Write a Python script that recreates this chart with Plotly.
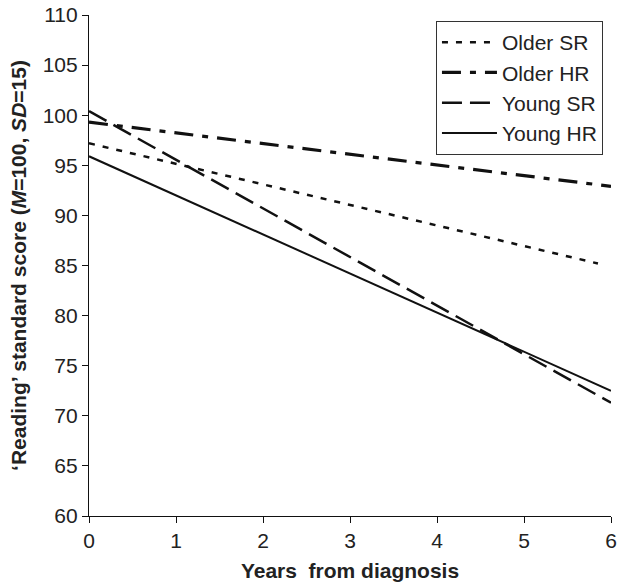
import plotly.graph_objects as go

years = [0, 6]
older_sr_x = [0, 5.85]
older_sr = [97.2, 85.2]
older_hr = [99.3, 92.9]
young_sr = [100.4, 71.3]
young_hr = [95.9, 72.5]

ink = "#111111"
fig = go.Figure()
fig.add_trace(go.Scatter(x=older_sr_x, y=older_sr, mode="lines", name="Older SR",
                         line=dict(color=ink, width=2.5, dash="6px,8px")))
fig.add_trace(go.Scatter(x=years, y=older_hr, mode="lines", name="Older HR",
                         line=dict(color=ink, width=3.2, dash="19px,9px,6px,9px")))
fig.add_trace(go.Scatter(x=years, y=young_sr, mode="lines", name="Young SR",
                         line=dict(color=ink, width=2.5, dash="20px,8px")))
fig.add_trace(go.Scatter(x=years, y=young_hr, mode="lines", name="Young HR",
                         line=dict(color=ink, width=2)))

font = "Liberation Sans, Arial, sans-serif"
fig.update_layout(
    width=618, height=587,
    margin=dict(l=89, r=7, t=15, b=71),
    paper_bgcolor="white", plot_bgcolor="white",
    font=dict(family=font, color="#222", size=21),
    showlegend=True,
    legend=dict(x=0.9846, y=0.988, xanchor="right", yanchor="top",
                bordercolor="#333", borderwidth=1, bgcolor="white",
                font=dict(size=21), itemwidth=55, tracegroupgap=0),
    xaxis=dict(range=[0, 6], dtick=1, tick0=0, showline=True, linecolor=ink,
               linewidth=1.2, ticks="outside", ticklen=6, tickcolor=ink,
               showgrid=False, zeroline=False, ticklabeloverflow="allow", automargin=False,
               title=dict(text="<b>Years  from diagnosis</b>", font=dict(size=21), standoff=12)),
    yaxis=dict(range=[60, 110], dtick=5, tick0=60, showline=True, linecolor=ink,
               linewidth=1.2, ticks="outside", ticklen=6, tickcolor=ink,
               showgrid=False, zeroline=False, ticklabeloverflow="allow", automargin=False,
               title=dict(text="<b>\u2018Reading\u2019 standard score (<i>M</i>=100, <i>SD</i>=15)</b>",
                          font=dict(size=21), standoff=10)),
)

fig.write_html("out.html", config={"displayModeBar": False},
               post_script="document.body.style.margin='0';document.body.style.overflow='hidden';")
